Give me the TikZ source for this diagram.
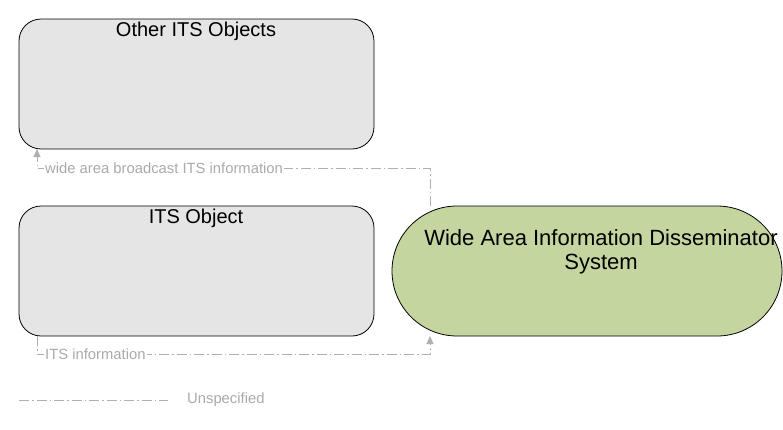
\documentclass[tikz,border=0pt]{standalone}
\usepackage{fontspec}
\setmainfont{Liberation Sans}
\usetikzlibrary{arrows.meta}
\begin{document}
\begin{tikzpicture}[x=1pt,y=-1pt,
 obj/.style={draw=black,fill=gray!20,rounded corners=22pt,line width=0.8pt},
 sys/.style={draw=black,fill={rgb,255:red,197;green,213;blue,160},rounded corners=65pt,line width=0.8pt},
 flow/.style={draw={rgb,255:red,176;green,176;blue,176},dash pattern=on 10pt off 3pt on 1.5pt off 3pt,line width=1pt},
 lbl/.style={fill=white,text={rgb,255:red,170;green,170;blue,170},font=\fontsize{14.8}{17}\selectfont,inner sep=1pt}]
\useasboundingbox (0,0) rectangle (783,429);
\draw[obj] (19,19) rectangle (374,149);
\node[font=\fontsize{20}{22}\selectfont] (t1) at (196,31) {Other ITS Objects};
\coordinate (o) at (37,149);
\draw[obj] (19,206) rectangle (374,336);
\node[font=\fontsize{20}{22}\selectfont] (t2) at (196,218) {ITS Object};
\coordinate (i) at (37,336);
\draw[sys] (392,206) rectangle (782,336);
\node[font=\fontsize{22}{24}\selectfont,align=center] (t3) at (601,252) {Wide Area Information Disseminator\\System};
\coordinate (wt) at (430,206);
\coordinate (wb) at (430,336);
\draw[flow,-{Triangle[length=8pt,width=7pt]}] (wt) |- (37,168) -- (o);
\node[lbl,anchor=west] (l1) at (44,168) {wide area broadcast ITS information};
\draw[flow,-{Triangle[length=8pt,width=7pt]}] (i) |- (430,354) -- (wb);
\node[lbl,anchor=west] (l2) at (44,354) {ITS information};
\coordinate (a) at (19,400); \coordinate (b) at (168,400);
\draw[flow] (a) -- (b);
\node[lbl,anchor=west] (u) at (186,400) {Unspecified};
\end{tikzpicture}
\end{document}
